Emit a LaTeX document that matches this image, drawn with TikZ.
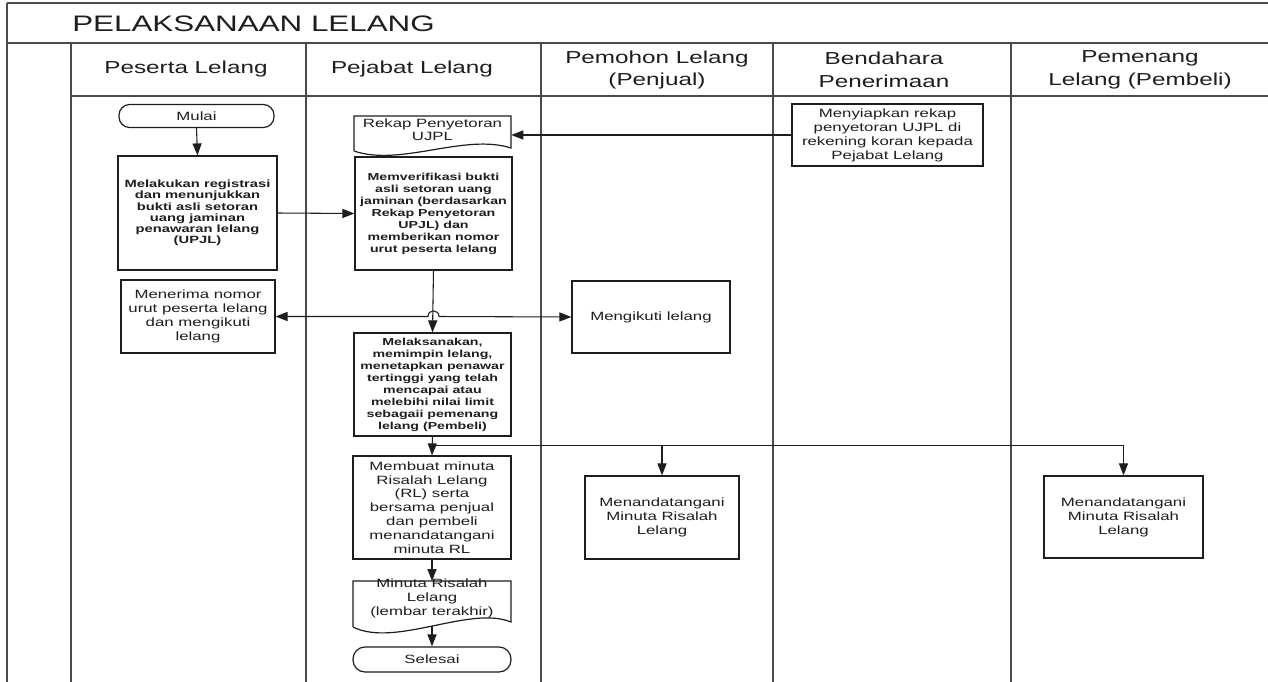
\documentclass[tikz,border=0pt]{standalone}
\usepackage{fontspec}
\setmainfont{Liberation Sans}[FakeStretch=1.4]
\usetikzlibrary{arrows.meta,calc}
\definecolor{ink}{HTML}{1E1E1E}
\definecolor{lanegray}{HTML}{4A4A4A}
\newcommand\fsz[2]{\fontsize{#1}{#2}\selectfont}
\begin{document}
\begin{tikzpicture}[x=0.75pt,y=-0.75pt,
  lane/.style={draw=lanegray,line width=1.1pt},
  sz/.style 2 args={minimum width=#1*0.75pt,minimum height=#2*0.75pt},
  box/.style={draw=ink,line width=0.9pt,rectangle,inner sep=0pt,align=center,text=ink},
  plain/.style={inner sep=0pt,align=center,text=ink},
  head/.style={plain,font=\fsz{13}{17}},
  boldtxt/.style={font=\fsz{7.6}{9}\bfseries},
  regtxt/.style={font=\fsz{9}{10.5}},
  conn/.style={draw=ink,line width=0.8pt},
  tip/.tip={Triangle[length=9pt,width=6.8pt]},
  arr/.style={conn,-tip},
  darr/.style={conn,tip-tip}]
\useasboundingbox (0,0) rectangle (1268,682);
\fill[white] (0,0) rectangle (1268,682);

% swimlane frame
\draw[lane] (7,3) -- (1268,3);
\draw[lane] (7,43) -- (1268,43);
\draw[lane] (71,96) -- (1268,96);
\draw[lane] (7,3) -- (7,682);
\draw[lane] (71,43) -- (71,682);
\foreach \xx in {306,541,773,1011} \draw[lane] (\xx,43) -- (\xx,682);

% title and lane headers
\node[plain,anchor=west,font=\fsz{16.8}{19}] (title) at (72,23.5) {PELAKSANAAN LELANG};
\node[head] (h1) at (186,69) {Peserta Lelang};
\node[head] (h2) at (412,69) {Pejabat Lelang};
\node[head] (h3) at (657,70) {Pemohon Lelang\\(Penjual)};
\node[head] (h4) at (884,70) {Bendahara\\Penerimaan};
\node[head] (h5) at (1140,70) {Pemenang\\Lelang (Pembeli)};

% Peserta Lelang
\node[box,sz={155}{23},rounded corners=8pt,font=\fsz{9}{10}] (mulai) at (196.5,116) {Mulai};
\node[box,sz={159}{114},font=\fsz{7.9}{8.4}\bfseries] (registrasi) at (197.5,213)
  {Melakukan registrasi\\dan menunjukkan\\bukti asli setoran\\uang jaminan\\penawaran lelang\\(UPJL)};
\node[box,sz={154}{73},regtxt] (menerima) at (198,316.5)
  {Menerima nomor\\urut peserta lelang\\dan mengikuti\\lelang};

% Pejabat Lelang
\node[plain,sz={157}{28},font=\fsz{9}{9.75}] (rekap) at (432.5,130) {Rekap Penyetoran\\UJPL};
\draw[draw=ink,line width=0.9pt]
  ($(rekap.center)+(-78.5,21)$) -- ($(rekap.center)+(-78.5,-14)$) -- ($(rekap.center)+(78.5,-14)$)
  -- ($(rekap.center)+(78.5,18)$)
  .. controls ($(rekap.center)+(32,3)$) and ($(rekap.center)+(-32,37)$) .. ($(rekap.center)+(-78.5,21)$);
\node[box,sz={157}{113},boldtxt] (verif) at (433.5,213.5)
  {Memverifikasi bukti\\asli setoran uang\\jaminan (berdasarkan\\Rekap Penyetoran\\UPJL) dan\\memberikan nomor\\urut peserta lelang};
\node[box,sz={157}{103},boldtxt] (melak) at (432.5,384.5)
  {Melaksanakan,\\memimpin lelang,\\menetapkan penawar\\tertinggi yang telah\\mencapai atau\\melebihi nilai limit\\sebagaii pemenang\\lelang (Pembeli)};
\node[box,sz={158}{103},font=\fsz{9}{10.4}] (membuat) at (432,507.5)
  {Membuat minuta\\Risalah Lelang\\(RL) serta\\bersama penjual\\dan pembeli\\menandatangani\\minuta RL};
\node[plain,sz={158}{40},regtxt] (minuta) at (432,598) {Minuta Risalah\\Lelang\\(lembar terakhir)};
\draw[draw=ink,line width=0.9pt]
  ($(minuta.center)+(-79,29)$) -- ($(minuta.center)+(-79,-17)$) -- ($(minuta.center)+(79,-17)$)
  -- ($(minuta.center)+(79,24)$)
  .. controls ($(minuta.center)+(38,7)$) and ($(minuta.center)+(-37,50)$) .. ($(minuta.center)+(-79,29)$);
\coordinate (minutaend) at ($(minuta.center)+(0,28)$);
\node[box,sz={158}{25},rounded corners=9pt,regtxt] (selesai) at (432,659.5) {Selesai};

% Pemohon Lelang
\node[box,sz={158}{72},regtxt] (mengikuti) at (651,317) {Mengikuti lelang};
\node[box,sz={154}{83},regtxt] (jualttd) at (662,517.5) {Menandatangani\\Minuta Risalah\\Lelang};

% Bendahara Penerimaan
\node[box,sz={191}{62},regtxt] (bendahara) at (887.5,135)
  {Menyiapkan rekap\\penyetoran UJPL di\\rekening koran kepada\\Pejabat Lelang};

% Pemenang Lelang
\node[box,sz={159}{82},regtxt] (belittd) at (1123.5,517) {Menandatangani\\Minuta Risalah\\Lelang};

% connectors
\draw[arr] (mulai.south) -- (registrasi.north);
\draw[arr] (registrasi.east) -- (verif.west);
\draw[arr] (bendahara.west) -- (rekap.east |- bendahara.west);
\draw[arr] (verif.south) -- (melak.north);
\coordinate (hop) at (verif.south |- menerima.east);
\draw[darr] (menerima.east) -- ($(hop)+(-5.5,0)$)
  .. controls ($(hop)+(-5.5,-7.5)$) and ($(hop)+(5.5,-7.5)$) .. ($(hop)+(5.5,0)$) -- (mengikuti.west);
\draw[arr] (melak.south) -- (membuat.north);
\coordinate (split) at ($(melak.south)+(0,9)$);
\draw[arr] (split) -| (jualttd.north);
\draw[arr] (split) -| (belittd.north);
\draw[arr] (membuat.south) -- (minuta.north |- 0,581);
\draw[arr] (minutaend) -- (selesai.north);
\end{tikzpicture}
\end{document}
